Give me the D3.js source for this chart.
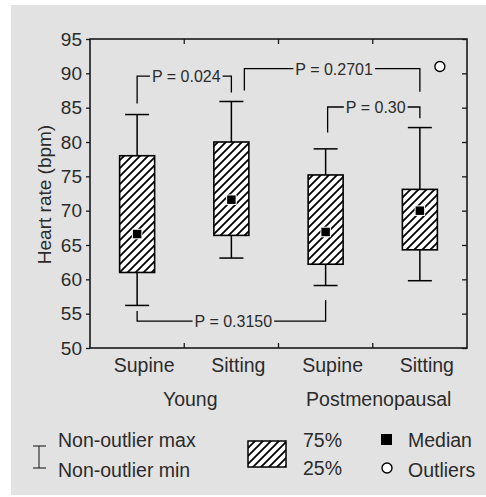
<!DOCTYPE html>
<html>
<head>
<meta charset="utf-8">
<script src="https://cdn.jsdelivr.net/npm/d3@7"></script>
<style>
  html, body { margin: 0; padding: 0; background: #fff; }
  svg { display: block; font-family: "Liberation Sans", Arial, sans-serif; }
</style>
</head>
<body>
<svg id="chart" width="486" height="497"></svg>
<script>
// values (bpm)
const positions = ["Supine", "Sitting", "Supine", "Sitting"];
const groups = ["Young", "Postmenopausal"];
const q1 = [61, 66.4, 62.2, 64.3];
const q3 = [78, 80, 75.2, 73.1];
const medians = [66.6, 71.6, 66.9, 70];
const whiskerMin = [56.2, 63.1, 59.1, 59.8];
const whiskerMax = [84, 85.9, 79, 82.1];
const outlierIdx = [3];
const outlierVal = [91];
const yTicks = [50, 55, 60, 65, 70, 75, 80, 85, 90, 95];

// p-value brackets: from box, to box, bar level, leg ends
const pLabels = ["P = 0.024", "P = 0.2701", "P = 0.30", "P = 0.3150"];
const pFrom = [0, 1, 2, 0];
const pTo = [1, 3, 3, 2];
const pLevel = [89.6, 90.7, 85.1, 53.9];
const pLegFrom = [85.6, 87.5, 81.4, 55.4];
const pLegTo = [87.2, 87.3, 83.45, 57.0];

const width = 486, height = 497;
const margin = {top: 39, right: 19, bottom: 149, left: 90};
const ink = "#2b2b2b";

const svg = d3.select("#chart");

svg.append("rect").attr("x", 11).attr("y", 5)
  .attr("width", width - 11).attr("height", 490).attr("fill", "#e2e2e2");

// hatch
const defs = svg.append("defs");
const pat = defs.append("pattern")
  .attr("id", "hatch").attr("patternUnits", "userSpaceOnUse")
  .attr("width", 8).attr("height", 8);
pat.append("path")
  .attr("d", "M-2,2 l4,-4 M0,8 l8,-8 M6,10 l4,-4")
  .attr("stroke", "#000").attr("stroke-width", 1.8);

const x = d3.scaleBand()
  .domain(d3.range(positions.length))
  .range([margin.left, width - margin.right]);
const y = d3.scaleLinear()
  .domain([50, 95])
  .range([height - margin.bottom, margin.top]);

const x0 = margin.left, x1 = width - margin.right;
const y0 = y(50), y1 = y(95);
const cx = i => x(i) + x.bandwidth() / 2;

// left axis
const left = svg.append("g")
  .attr("transform", `translate(${x0},0)`)
  .call(d3.axisLeft(y).tickValues(yTicks).tickSize(4).tickPadding(4));
left.select(".domain").remove();
left.selectAll("line").attr("stroke", "#1a1a1a").attr("stroke-width", 1.3);
left.selectAll("text").attr("font-size", 19).attr("fill", ink)
  .attr("font-family", "Liberation Sans, Arial, sans-serif");

// right axis, inner ticks
const right = svg.append("g")
  .attr("transform", `translate(${x1},0)`)
  .call(d3.axisRight(y).tickValues(yTicks).tickSize(-5).tickFormat(""));
right.select(".domain").remove();
right.selectAll("line").attr("stroke", "#1a1a1a").attr("stroke-width", 1.3);

// group separators on top and bottom
const seps = d3.range(1, positions.length).map(i => x(i));
svg.append("g").selectAll("line").data(seps).join("line")
  .attr("x1", d => d).attr("x2", d => d)
  .attr("y1", y1).attr("y2", y1 + 5)
  .attr("stroke", "#1a1a1a").attr("stroke-width", 1.3);
svg.append("g").selectAll("line").data(seps).join("line")
  .attr("x1", d => d).attr("x2", d => d)
  .attr("y1", y0).attr("y2", y0 - 5)
  .attr("stroke", "#1a1a1a").attr("stroke-width", 1.3);

// frame
svg.append("rect")
  .attr("x", x0).attr("y", y1).attr("width", x1 - x0).attr("height", y0 - y1)
  .attr("fill", "none").attr("stroke", "#1a1a1a").attr("stroke-width", 1.6);

// y title
svg.append("text")
  .attr("transform", `translate(51,${(y0 + y1) / 2 + 1}) rotate(-90)`)
  .attr("text-anchor", "middle").attr("font-size", 19).attr("fill", ink)
  .text("Heart rate (bpm)");

// category labels
svg.append("g").selectAll("text").data(positions).join("text")
  .attr("x", (d, i) => cx(i) + 7).attr("y", 372)
  .attr("text-anchor", "middle").attr("font-size", 19.5).attr("fill", ink)
  .text(d => d);
svg.append("g").selectAll("text").data(groups).join("text")
  .attr("x", (d, i) => (cx(2 * i) + cx(2 * i + 1)) / 2 + 6).attr("y", 406)
  .attr("text-anchor", "middle").attr("font-size", 19.5).attr("fill", ink)
  .text(d => d);

// boxes
const boxW = 35, capW = 24, medS = 8.5;
const boxes = svg.append("g").selectAll("g").data(positions).join("g");
boxes.append("line")
  .attr("x1", (d, i) => cx(i)).attr("x2", (d, i) => cx(i))
  .attr("y1", (d, i) => y(whiskerMin[i])).attr("y2", (d, i) => y(whiskerMax[i]))
  .attr("stroke", "#000").attr("stroke-width", 1.5);
boxes.append("line")
  .attr("x1", (d, i) => cx(i) - capW / 2).attr("x2", (d, i) => cx(i) + capW / 2)
  .attr("y1", (d, i) => y(whiskerMax[i])).attr("y2", (d, i) => y(whiskerMax[i]))
  .attr("stroke", "#000").attr("stroke-width", 1.5);
boxes.append("line")
  .attr("x1", (d, i) => cx(i) - capW / 2).attr("x2", (d, i) => cx(i) + capW / 2)
  .attr("y1", (d, i) => y(whiskerMin[i])).attr("y2", (d, i) => y(whiskerMin[i]))
  .attr("stroke", "#000").attr("stroke-width", 1.5);
boxes.append("rect")
  .attr("x", (d, i) => cx(i) - boxW / 2).attr("width", boxW)
  .attr("y", (d, i) => y(q3[i])).attr("height", (d, i) => y(q1[i]) - y(q3[i]))
  .attr("fill", "#fff").attr("stroke", "none");
boxes.append("rect")
  .attr("x", (d, i) => cx(i) - boxW / 2).attr("width", boxW)
  .attr("y", (d, i) => y(q3[i])).attr("height", (d, i) => y(q1[i]) - y(q3[i]))
  .attr("fill", "url(#hatch)").attr("stroke", "#000").attr("stroke-width", 1.6);
boxes.append("rect")
  .attr("x", (d, i) => cx(i) - medS / 2 - 1).attr("y", (d, i) => y(medians[i]) - medS / 2 - 1)
  .attr("width", medS + 2).attr("height", medS + 2).attr("fill", "#fff");
boxes.append("rect")
  .attr("x", (d, i) => cx(i) - medS / 2).attr("y", (d, i) => y(medians[i]) - medS / 2)
  .attr("width", medS).attr("height", medS).attr("fill", "#000");

// outliers
svg.append("g").selectAll("circle").data(outlierIdx).join("circle")
  .attr("cx", d => cx(d) + 20).attr("cy", (d, k) => y(outlierVal[k]))
  .attr("r", 5).attr("fill", "#fff").attr("stroke", "#000").attr("stroke-width", 1.4);

// p-value brackets
const legShift = [0, 13, 2, 0];
const br = svg.append("g").attr("fill", "none").attr("stroke", "#000").attr("stroke-width", 1.3);
pLabels.forEach((lab, k) => {
  const xa = cx(pFrom[k]) + legShift[k], xb = cx(pTo[k]);
  const yl = y(pLevel[k]);
  const t = svg.append("text")
    .attr("x", (xa + xb) / 2 + 2).attr("y", yl + 6)
    .attr("text-anchor", "middle").attr("font-size", 16).attr("fill", ink)
    .text(lab);
  const tw = t.node().getComputedTextLength();
  const tx0 = (xa + xb) / 2 + 2 - tw / 2 - 2, tx1 = (xa + xb) / 2 + 2 + tw / 2 + 2;
  br.append("path").attr("d",
    `M${xa},${y(pLegFrom[k])}V${yl}H${tx0}M${tx1},${yl}H${xb}V${y(pLegTo[k])}`);
});

// legend
const lg = svg.append("g").attr("fill", ink).attr("font-size", 19.5);
const wl = lg.append("g").attr("stroke", "#222").attr("stroke-width", 1.1);
wl.append("line").attr("x1", 39).attr("x2", 39).attr("y1", 446).attr("y2", 468);
wl.append("line").attr("x1", 33).attr("x2", 46).attr("y1", 446).attr("y2", 446);
wl.append("line").attr("x1", 33).attr("x2", 46).attr("y1", 468).attr("y2", 468);
lg.append("text").attr("x", 58).attr("y", 447).text("Non-outlier max");
lg.append("text").attr("x", 58).attr("y", 477).text("Non-outlier min");

lg.append("rect").attr("x", 248).attr("y", 441).attr("width", 38).attr("height", 26)
  .attr("fill", "#fff");
lg.append("rect").attr("x", 248).attr("y", 441).attr("width", 38).attr("height", 26)
  .attr("fill", "url(#hatch)").attr("stroke", "#000").attr("stroke-width", 1.5);
lg.append("text").attr("x", 303).attr("y", 447).text("75%");
lg.append("text").attr("x", 303).attr("y", 475).text("25%");

lg.append("rect").attr("x", 381).attr("y", 434).attr("width", 11).attr("height", 11).attr("fill", "#000");
lg.append("text").attr("x", 408).attr("y", 447).text("Median");
lg.append("circle").attr("cx", 387).attr("cy", 468).attr("r", 5)
  .attr("fill", "#fff").attr("stroke", "#000").attr("stroke-width", 1.4);
lg.append("text").attr("x", 408).attr("y", 477).text("Outliers");
</script>
</body>
</html>
